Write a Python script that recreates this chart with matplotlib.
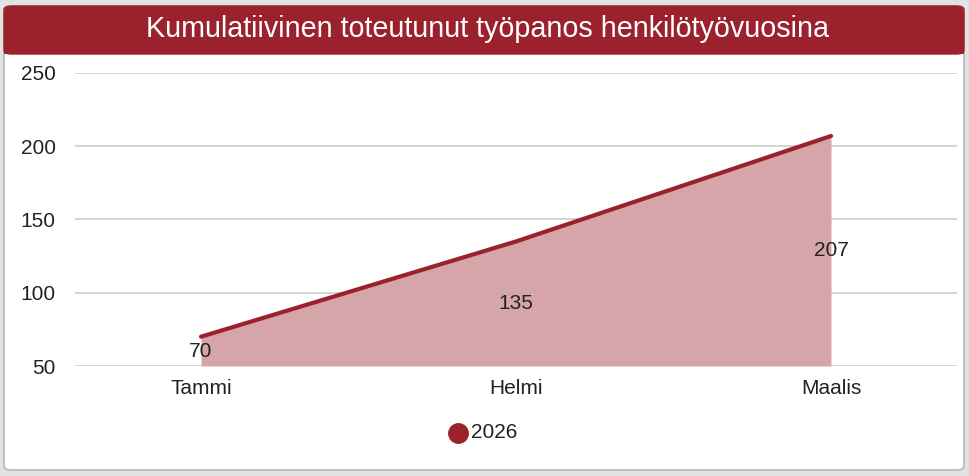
import matplotlib.pyplot as plt
from matplotlib.patches import FancyBboxPatch, Rectangle

# data
kuukaudet = ['Tammi', 'Helmi', 'Maalis']
arvot = [70, 135, 207]
sarja = '2026'
otsikko = 'Kumulatiivinen toteutunut työpanos henkilötyövuosina'

punainen = '#9b222d'
taytto = '#d5a5aa'

plt.rcParams['font.family'] = ['Liberation Sans', 'DejaVu Sans']

W, H = 969, 476
fig = plt.figure(figsize=(W / 100, H / 100), dpi=100)
fig.patch.set_facecolor('#e2e2e2')

# kortti
kortti = FancyBboxPatch((4 / W, 6 / H), 960 / W, 464 / H,
                        boxstyle='round,pad=0,rounding_size=0.008',
                        transform=fig.transFigure, facecolor='white',
                        edgecolor='#b8b8b8', linewidth=1.2, zorder=0)
fig.patches.append(kortti)
otsake = FancyBboxPatch((4 / W, (H - 54) / H), 960 / W, 48 / H,
                        boxstyle='round,pad=0,rounding_size=0.008',
                        transform=fig.transFigure, facecolor=punainen,
                        edgecolor=punainen, linewidth=1, zorder=1)
fig.patches.append(otsake)
fig.patches.append(Rectangle((4 / W, (H - 54) / H), 960 / W, 12 / H,
                             transform=fig.transFigure, facecolor=punainen,
                             edgecolor='none', zorder=1))
fig.text(488 / W, (H - 29) / H, otsikko, color='white', fontsize=20.7,
         ha='center', va='center', zorder=2)

ax = fig.add_axes([75 / W, (H - 366) / H, 882 / W, 293 / H])
ax.set_zorder(5)
ax.set_facecolor('none')
x = list(range(len(kuukaudet)))
ax.fill_between(x, arvot, 50, color=taytto, linewidth=0, zorder=2)
ax.plot(x, arvot, color=punainen, linewidth=3, solid_capstyle='round', zorder=3)
for xi, v in zip(x, arvot):
    ax.text(xi, (v + 50) / 2, str(v), ha='center', va='center',
            fontsize=15, color='#222222', zorder=4)

ax.set_xlim(-0.4, 2.4)
ax.set_ylim(50, 250)
ax.set_yticks([50, 100, 150, 200, 250])
ax.set_xticks(x)
ax.set_xticklabels(kuukaudet)
ax.grid(axis='y', color='#cccccc', linewidth=1.2, zorder=1)
ax.set_axisbelow(True)
for s in ax.spines.values():
    s.set_visible(False)
ax.tick_params(axis='y', length=0, pad=14, labelsize=15, labelcolor='#222222')
ax.tick_params(axis='x', length=0, pad=9, labelsize=15, labelcolor='#222222')

# legenda
fig.lines.append(plt.Line2D([458 / W], [(H - 433) / H], marker='o', markersize=14,
                            color=punainen, linestyle='none', transform=fig.transFigure,
                            zorder=5))
fig.text(471 / W, (H - 433) / H, sarja, fontsize=15, color='#222222',
         ha='left', va='center', zorder=5)

fig.savefig('out.png', dpi=100, facecolor=fig.get_facecolor())
